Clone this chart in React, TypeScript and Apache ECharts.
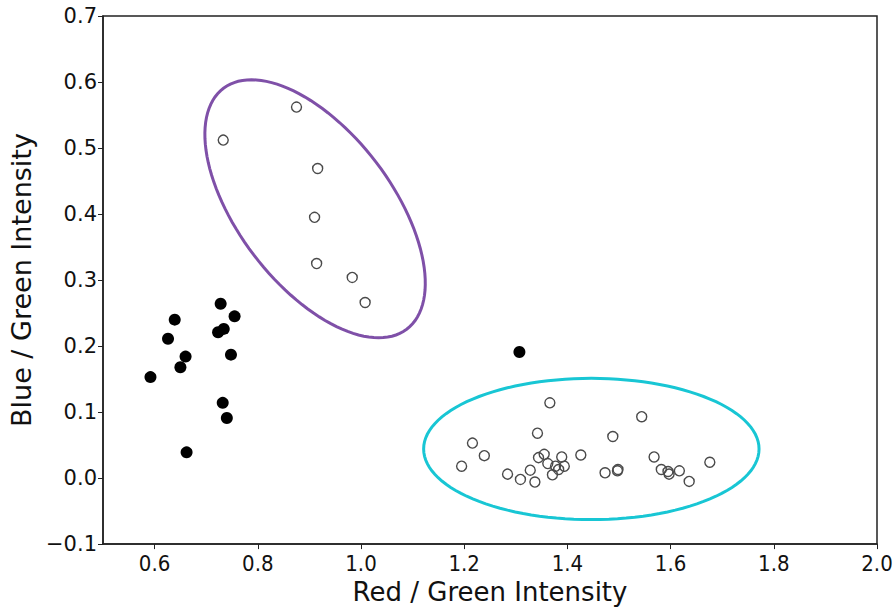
import React, { useEffect, useRef } from "react";
import * as echarts from "echarts";

// Black filled points [x, y]
const filledPoints: number[][] = [
  [0.592, 0.153], [0.626, 0.211], [0.639, 0.240], [0.650, 0.168], [0.660, 0.184],
  [0.662, 0.039], [0.723, 0.221], [0.728, 0.264], [0.734, 0.226], [0.732, 0.114],
  [0.740, 0.091], [0.748, 0.187], [0.755, 0.245], [1.307, 0.191],
];

// Open circles, upper-left cluster
const openUpper: number[][] = [
  [0.733, 0.512], [0.875, 0.562], [0.916, 0.469], [0.910, 0.395],
  [0.914, 0.325], [0.983, 0.304], [1.008, 0.266],
];

// Open circles, lower-right cluster
const openLower: number[][] = [
  [1.366, 0.114], [1.544, 0.093], [1.342, 0.068], [1.488, 0.063], [1.216, 0.053],
  [1.239, 0.034], [1.195, 0.018], [1.284, 0.006], [1.309, -0.002], [1.328, 0.012],
  [1.337, -0.006], [1.344, 0.031], [1.355, 0.036], [1.362, 0.022], [1.371, 0.005],
  [1.377, 0.018], [1.383, 0.013], [1.389, 0.032], [1.394, 0.018], [1.426, 0.035],
  [1.473, 0.008], [1.497, 0.011], [1.498, 0.013], [1.568, 0.032], [1.582, 0.013],
  [1.595, 0.010], [1.597, 0.006], [1.617, 0.011], [1.636, -0.005], [1.676, 0.024],
];

// Ellipses: [centerX, centerY, axis1 dx, axis1 dy, axis2 dx, axis2 dy] in data units
const purpleEllipse: number[] = [0.911, 0.408, 0.1775, -0.1825, -0.1188, -0.0699];
const cyanEllipse: number[] = [1.4464, 0.0441, 0.325, 0, 0, 0.107];

const xTicks = [0.6, 0.8, 1.0, 1.2, 1.4, 1.6, 1.8, 2.0];

export default function App() {
  const ref = useRef<HTMLDivElement>(null);
  useEffect(() => {
    if (!ref.current) return;
    const chart = echarts.init(ref.current, null, { renderer: "svg" });
    const renderEllipse = (color: string) => (params: any, api: any) => {
      const cx = api.value(0), cy = api.value(1);
      const ux = api.value(2), uy = api.value(3);
      const vx = api.value(4), vy = api.value(5);
      const pts: number[][] = [];
      const n = 120;
      for (let i = 0; i < n; i++) {
        const t = (i / n) * Math.PI * 2;
        const c = Math.cos(t), s = Math.sin(t);
        pts.push(api.coord([cx + ux * c + vx * s, cy + uy * c + vy * s]));
      }
      return {
        type: "polygon",
        shape: { points: pts },
        style: { fill: "none", stroke: color, lineWidth: 3 },
      };
    };
    const font = "DejaVu Sans";
    chart.setOption({
      animation: false,
      backgroundColor: "#fff",
      grid: {
        left: 103, right: 19, top: 16, bottom: 61,
        show: true, borderColor: "#222", borderWidth: 1.5,
      },
      xAxis: {
        type: "value",
        min: 0.5,
        max: 2.0,
        splitLine: { show: false },
        axisLine: { show: true, onZero: false, lineStyle: { color: "#222", width: 1.5 } },
        axisTick: { show: true, length: 5, customValues: xTicks, lineStyle: { color: "#222" } },
        axisLabel: {
          customValues: xTicks,
          formatter: (v: number) => v.toFixed(1),
          color: "#111", fontSize: 22, fontFamily: "DejaVu Sans Condensed, " + font, margin: 8,
        },
        name: "Red / Green Intensity",
        nameLocation: "middle",
        nameGap: 32,
        nameTextStyle: { color: "#111", fontSize: 26, fontFamily: font },
      },
      yAxis: {
        type: "value",
        min: -0.1,
        max: 0.7,
        interval: 0.1,
        splitLine: { show: false },
        axisLine: { show: true, onZero: false, lineStyle: { color: "#222", width: 1.5 } },
        axisTick: { show: true, length: 5, lineStyle: { color: "#222" } },
        axisLabel: {
          formatter: (v: number) => v.toFixed(1).replace("-", "\u2212"),
          color: "#111", fontSize: 21, fontFamily: font, margin: 6,
        },
        name: "Blue / Green Intensity",
        nameLocation: "middle",
        nameGap: 68,
        nameTextStyle: { color: "#111", fontSize: 27, fontFamily: font },
      },
      series: [
        {
          type: "scatter",
          data: filledPoints,
          symbol: "circle",
          symbolSize: 12,
          itemStyle: { color: "#000", opacity: 1 },
          z: 3,
        },
        {
          type: "scatter",
          data: openUpper,
          symbol: "circle",
          symbolSize: 10,
          itemStyle: { color: "rgba(255,255,255,0)", borderColor: "#4a4a4a", borderWidth: 1.4, opacity: 1 },
          z: 3,
        },
        {
          type: "scatter",
          data: openLower,
          symbol: "circle",
          symbolSize: 10,
          itemStyle: { color: "rgba(255,255,255,0)", borderColor: "#4a4a4a", borderWidth: 1.4, opacity: 1 },
          z: 3,
        },
        {
          type: "custom",
          renderItem: renderEllipse("#7f50a8"),
          data: [purpleEllipse],
          z: 2,
          silent: true,
        },
        {
          type: "custom",
          renderItem: renderEllipse("#18c6d4"),
          data: [cyanEllipse],
          z: 2,
          silent: true,
        },
      ],
    });
    return () => chart.dispose();
  }, []);
  return (
    <div
      ref={ref}
      style={{ position: "fixed", left: 0, top: 0, width: 896, height: 610 }}
    />
  );
}
